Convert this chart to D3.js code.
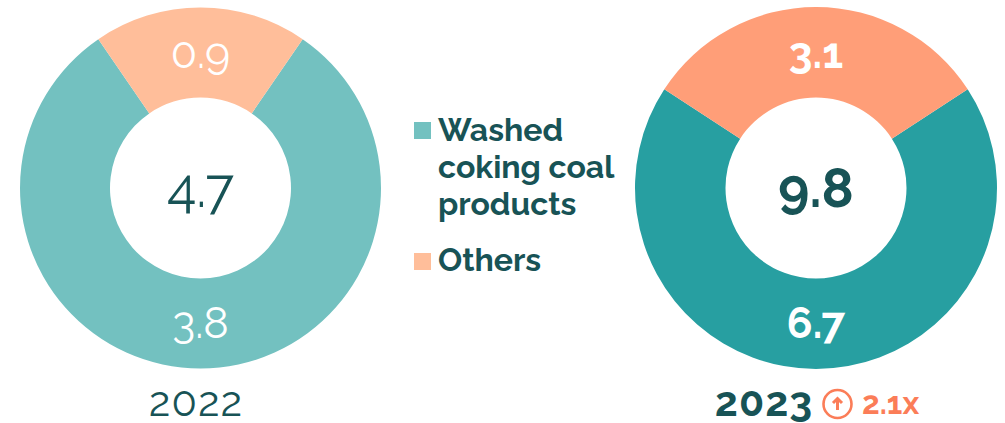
<!DOCTYPE html>
<html><head><meta charset="utf-8">
<script src="https://cdn.jsdelivr.net/npm/d3@7"></script>
<style>html,body{margin:0;padding:0;background:#fff}svg{display:block}</style>
</head><body><svg id="c" width="1005" height="423"></svg>
<script>
const categories=["Washed coking coal products","Others"];
const years=["2022","2023"];
const values2022=[3.8,0.9];
const values2023=[6.7,3.1];
const totals=["4.7","9.8"];
const labels2022=["3.8","0.9"];
const labels2023=["6.7","3.1"];
const colors2022=["#73c1c0","#ffbe9a"];
const colors2023=["#279fa1","#ff9e78"];
const growth="2.1x";
const dark="#185356";
const accent="#fb7d58";
const font="Raleway, Montserrat, Lato, 'Open Sans', sans-serif";
const svg=d3.select("#c");
function donut(cx,cy,R,r,vals,cols,labs,total,weight,labelSize,totalSize){
  const g=svg.append("g").attr("transform",`translate(${cx},${cy})`);
  const o=vals[1]/(vals[0]+vals[1]);
  const pie=d3.pie().sort(null).startAngle(o*Math.PI).endAngle(o*Math.PI+2*Math.PI);
  const arc=d3.arc().innerRadius(r).outerRadius(R);
  const arcs=pie(vals);
  g.selectAll("path").data(arcs).join("path").attr("d",arc).attr("fill",(d,i)=>cols[i]);
  const lr=135;
  g.selectAll("text.l").data(arcs).join("text").attr("class","l")
   .attr("x",d=>lr*Math.sin((d.startAngle+d.endAngle)/2))
   .attr("y",d=>-lr*Math.cos((d.startAngle+d.endAngle)/2)+labelSize*0.36)
   .attr("text-anchor","middle").attr("fill","#fff").attr("font-family",font)
   .attr("font-weight",weight).attr("font-size",labelSize).text((d,i)=>labs[i]);
  g.append("text").attr("y",totalSize*0.36).attr("text-anchor","middle").attr("fill",dark)
   .attr("font-family",font).attr("font-weight",weight).attr("font-size",totalSize).text(total);
}
donut(200.5,188,180.5,90.5,values2022,colors2022,labels2022,totals[0],400,43,54);
donut(816,188,181,90.5,values2023,colors2023,labels2023,totals[1],700,42.5,53.5);
svg.append("text").attr("x",196).attr("y",416).attr("text-anchor","middle").attr("fill",dark)
 .attr("font-family",font).attr("font-size",41.5).attr("font-weight",400).attr("letter-spacing",1).text(years[0]);
svg.append("text").attr("x",764).attr("y",416).attr("text-anchor","middle").attr("fill",dark)
 .attr("font-family",font).attr("font-size",41).attr("font-weight",700).attr("letter-spacing",1).text(years[1]);
const ic=svg.append("g").attr("transform","translate(837.5,404)").attr("fill","none").attr("stroke",accent).attr("stroke-width",2.6);
ic.append("circle").attr("r",14);
ic.append("path").attr("d","M0,6V-5").attr("stroke-width",3);
ic.append("path").attr("d","M-4.5,-1L0,-5.5L4.5,-1").attr("stroke-width",3);
svg.append("text").attr("x",862).attr("y",414).attr("fill",accent).attr("font-family",font)
 .attr("font-size",31.5).attr("font-weight",700).text(growth);
const lg=[{y:122,dy:19,c:colors2022[0],t:["Washed","coking coal","products"]},{y:253,dy:18,c:colors2022[1],t:["Others"]}];
lg.forEach(e=>{
  svg.append("rect").attr("x",414).attr("y",e.y).attr("width",17).attr("height",17).attr("fill",e.c);
  e.t.forEach((s,i)=>svg.append("text").attr("x",438).attr("y",e.y+e.dy+i*37).attr("fill",dark)
   .attr("font-family",font).attr("font-size",32).attr("font-weight",700).text(s));
});
</script></body></html>
